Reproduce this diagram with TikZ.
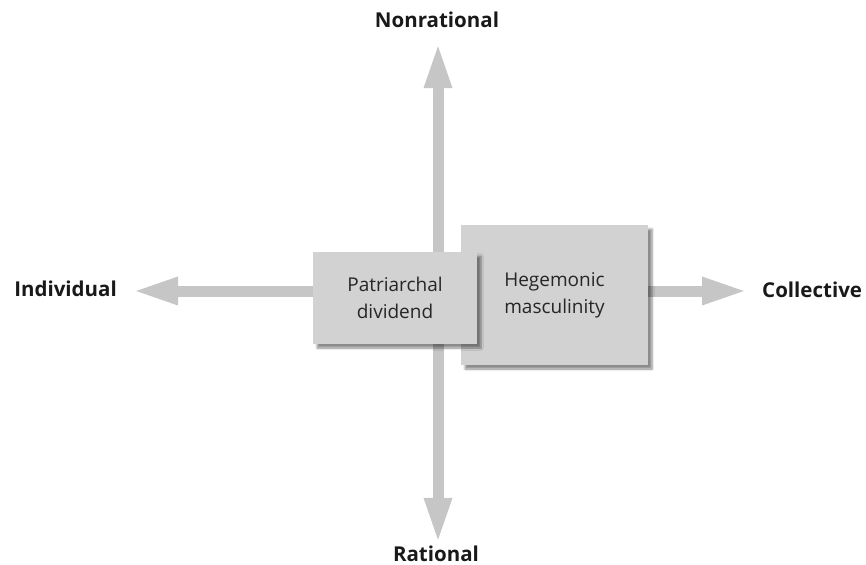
\documentclass[tikz,border=0pt]{standalone}
\usepackage{fontspec}
\setmainfont{Open Sans}
\usetikzlibrary{arrows.meta,shadows.blur}

\definecolor{axisgray}{RGB}{198,198,198}
\definecolor{boxgray}{RGB}{210,210,210}

\tikzset{
  pole/.style={font=\fontsize{20.5}{24}\selectfont\bfseries, text=black!90, inner sep=1pt},
  axis/.style={draw=axisgray, line width=11pt,
    {Triangle[length=46pt,width=25pt]}-{Triangle[length=46pt,width=25pt]}},
  concept/.style={fill=boxgray, draw=none, align=center, inner sep=0pt,
    font=\fontsize{19}{27}\selectfont, text=black!85,
    blur shadow={shadow xshift=4pt, shadow yshift=-4pt, shadow blur steps=6, shadow opacity=45}}
}

\begin{document}
\begin{tikzpicture}[x=1pt,y=-1pt]
    \useasboundingbox (0,0) rectangle (866,564);

    % the four poles
    \node[pole] (nonrat) at (437,20) {Nonrational};
    \node[pole] (rat) at (436,554) {Rational};
    \node[pole, anchor=east] (indiv) at (118,289) {Individual};
    \node[pole, anchor=west] (coll) at (761,290) {Collective};

    % draw the arrows (behind the boxes)
    \draw[axis, shorten <=13pt, shorten >=1pt] (nonrat.south -| 438,0) -- (rat.north -| 438,0);
    \draw[axis, shorten <=14pt, shorten >=13pt] (indiv.east |- 0,291) -- (coll.west |- 0,291);

    % the two boxes, the left one lies on top of the right one
    \node[concept, minimum width=187pt, minimum height=140pt] (hegemony) at (554.5,295) {Hegemonic\\masculinity};
    \node[concept, minimum width=164pt, minimum height=92pt] (dividend) at (395,298) {Patriarchal\\dividend};
\end{tikzpicture}
\end{document}
